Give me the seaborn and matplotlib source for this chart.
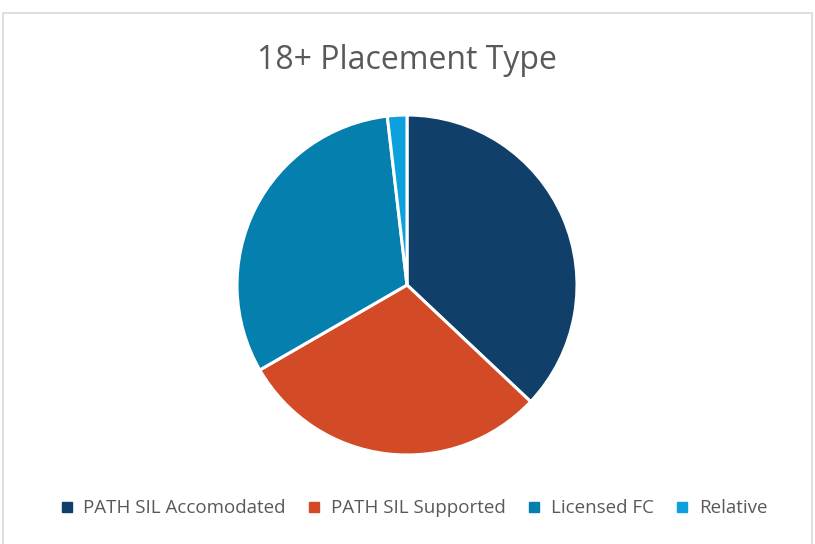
import matplotlib.pyplot as plt
import seaborn as sns
from matplotlib.lines import Line2D
from matplotlib.patches import Rectangle

categories = ["PATH SIL Accomodated", "PATH SIL Supported", "Licensed FC", "Relative"]
counts = [20, 16, 17, 1]
colors = ["#10406A", "#D34A26", "#0580AE", "#0CA0DC"]

sns.set_style("white")
plt.rcParams["font.family"] = ["Open Sans", "DejaVu Sans"]

fig = plt.figure(figsize=(8.15, 5.44), dpi=100)

# chart frame
fig.patches.append(Rectangle((3 / 815, -0.01), 809 / 815, 1 - 13 / 544 + 0.01,
                             transform=fig.transFigure, fill=False,
                             edgecolor="#D9D9D9", linewidth=1.2))

ax = fig.add_axes([0.2908, 0.1636, 0.4172, 0.625])
palette = sns.color_palette(colors)
ax.pie(counts, colors=palette, startangle=90, counterclock=False,
       wedgeprops={"edgecolor": "white", "linewidth": 2.2})
ax.set_xlim(-1.0, 1.0)
ax.set_ylim(-1.0, 1.0)
ax.set_aspect("equal")

fig.text(0.499, 0.888, "18+ Placement Type", ha="center", va="center",
         fontsize=23, color="#595959")

handles = [Line2D([], [], marker="s", linestyle="none", markersize=7,
                  markerfacecolor=c, markeredgecolor=c) for c in palette]
fig.legend(handles, categories, loc="center", bbox_to_anchor=(0.5, 0.066),
           ncol=4, frameon=False, fontsize=13.5, handletextpad=-0.1,
           columnspacing=0.5, labelcolor="#595959")

plt.savefig("out.png", dpi=100)
